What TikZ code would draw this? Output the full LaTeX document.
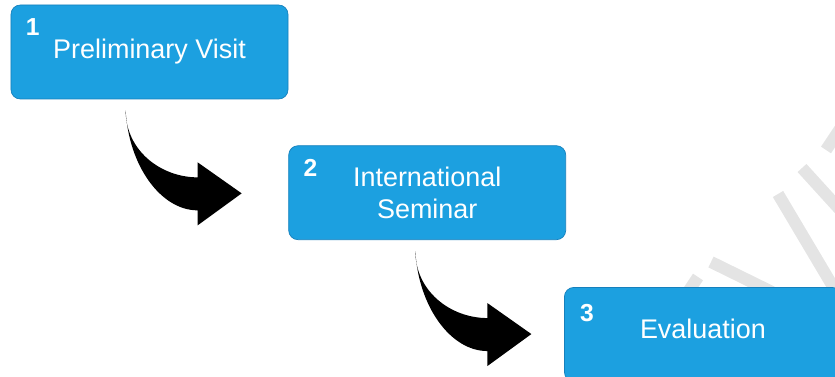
\documentclass[tikz,border=0pt]{standalone}
\usepackage{fontspec}
\setmainfont{Liberation Sans}
\usetikzlibrary{calc, positioning}
\definecolor{stageblue}{RGB}{28,160,224}
\definecolor{stageedge}{RGB}{22,128,188}
\definecolor{markgray}{RGB}{228,228,228}

\tikzset{
  stagebox/.style={draw=stageedge, line width=0.6pt, fill=stageblue, rounded corners=8pt,
    minimum width=8.31cm, minimum height=2.82cm, inner sep=0pt,
    text=white, align=center, font=\fontsize{23}{27}\selectfont},
  stagenum/.style={text=white, inner sep=0pt, font=\fontsize{21}{21}\selectfont\bfseries},
  wmark/.style={draw=markgray, line width=0.36cm},
  bendarrow/.pic={
    \fill[black] (0,0) .. controls (0,40) and (35,67) .. (72,67) -- (72,52) -- (116,83)
      -- (72,115) -- (72,100) .. controls (35,100) and (3,55) .. (0,0) -- cycle;
  }
}

\begin{document}
\begin{tikzpicture}[x=0.03cm, y=-0.03cm]
  \clip (0,0) rectangle (835,377);

  % faint watermark pieces on the right
  \draw[wmark] (778,194) -- (835,290);
  \draw[wmark] (802,168) -- (842,212);
  \draw[wmark] (826,150) -- (842,126);
  \draw[wmark] (711,262) -- (772,292);
  \draw[wmark] (688,292) -- (698,277);

  % the three stages
  \node[stagebox] (visit) at (149.5,52) {Preliminary Visit};
  \node[stagebox, below right=1.38cm and 0cm of visit] (seminar) {International\\Seminar};
  \node[stagebox, text depth=10pt, below right=1.41cm and -0.06cm of seminar] (evaluation) {Evaluation};

  \node[stagenum] (num1) at ($(visit.north west)+(22,22)$) {1};
  \node[stagenum] (num2) at ($(seminar.north west)+(22,23)$) {2};
  \node[stagenum] (num3) at ($(evaluation.north west)+(23,26)$) {3};

  % bent arrows between stages
  \pic at ($(visit.south west)+(115,11)$) {bendarrow};
  \pic at ($(seminar.south west)+(127,11)$) {bendarrow};
\end{tikzpicture}
\end{document}
